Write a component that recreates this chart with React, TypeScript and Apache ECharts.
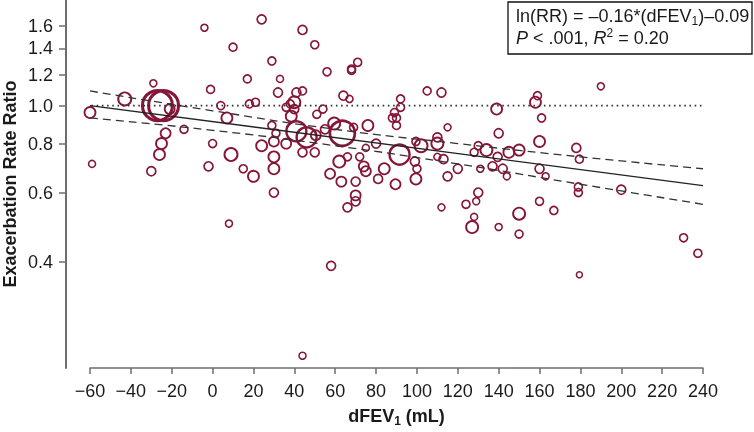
import React, { useEffect, useRef } from "react";
import * as echarts from "echarts";

// ---- data ----
const dFEV1 = [
  -60, -59, -43, -29, -27, -24, -21, -23, -14, -25, -26, -30, -4, 24, 10, 29, 17, 33, -1, 32,
  4, 18, 21, 7, 29, 38.5, 31, 0, -2, 9, 15, 20, 24, 30, 36, 30, 30, 30, 8, 44,
  50, 56, 68, 68, 71, 41, 44, 38, 40, 36, 40, 54, 51, 64, 67, 92, 92, 89, 90, 88,
  90, 105, 112, 139, 76, 115, 41, 46, 63.5, 59.5, 50.5, 55, 69, 91.5, 44, 50, 62, 66, 72, 74,
  75, 57.5, 63, 70, 70, 70, 66, 81, 84, 89.5, 80, 75, 99, 100, 99.5, 99.5, 102, 110, 110, 110,
  113, 120, 115, 130, 128, 134, 140, 139.5, 137, 131, 142, 144, 145, 150, 130, 129, 124, 112, 128, 127,
  140, 190, 159, 158, 161, 160, 178, 179.5, 160, 163, 179, 179, 200, 150, 160, 167, 150, 230.5, 237.5, 179.5,
  58, 44,
];
const rateRatio = [
  0.96, 0.71, 1.04, 1.14, 1.0, 1.0, 0.98, 0.85, 0.87, 0.8, 0.75, 0.68, 1.58, 1.66, 1.41, 1.3, 1.17, 1.17, 1.1, 1.08,
  1.0, 1.01, 1.02, 0.93, 0.89, 0.94, 0.85, 0.8, 0.7, 0.75, 0.69, 0.66, 0.79, 0.81, 0.8, 0.74, 0.69, 0.6, 0.5, 1.56,
  1.43, 1.22, 1.24, 1.23, 1.29, 1.08, 1.09, 1.01, 1.02, 0.99, 0.98, 0.98, 0.95, 1.06, 1.04, 1.04, 0.99, 0.96, 0.93, 0.93,
  0.89, 1.09, 1.08, 0.98, 0.89, 0.88, 0.86, 0.83, 0.85, 0.9, 0.84, 0.87, 0.88, 0.75, 0.76, 0.76, 0.72, 0.74, 0.74, 0.7,
  0.68, 0.67, 0.64, 0.64, 0.59, 0.57, 0.55, 0.65, 0.69, 0.63, 0.8, 0.78, 0.72, 0.69, 0.65, 0.81, 0.79, 0.83, 0.8, 0.74,
  0.73, 0.69, 0.66, 0.79, 0.76, 0.77, 0.85, 0.74, 0.7, 0.69, 0.69, 0.66, 0.76, 0.77, 0.6, 0.57, 0.56, 0.55, 0.52, 0.49,
  0.49, 1.12, 1.06, 1.02, 0.93, 0.81, 0.78, 0.73, 0.69, 0.66, 0.62, 0.6, 0.61, 0.53, 0.57, 0.54, 0.47, 0.46, 0.42, 0.37,
  0.39, 0.23,
];
// relative study weight (drawn as circle diameter)
const weight = [
  11, 7, 13, 7, 30, 30, 10, 10, 8, 11, 11, 9, 7, 9, 8, 8, 8, 7, 8, 9,
  8, 8, 8, 11, 8, 11, 8, 8, 9, 13, 8, 11, 11, 10, 10, 11, 11, 9, 7, 9,
  8, 8, 8, 8, 8, 9, 8, 8, 12, 8, 9, 8, 8, 9, 7, 8, 8, 8, 8, 8,
  8, 8, 9, 11, 11, 7, 20, 20, 25, 12, 10, 9, 8, 20, 9, 9, 12, 8, 8, 10,
  10, 10, 10, 9, 10, 9, 9, 9, 11, 10, 9, 7, 9, 8, 11, 8, 13, 9, 12, 7,
  9, 9, 9, 8, 8, 12, 9, 9, 9, 7, 9, 7, 11, 11, 9, 7, 8, 7, 7, 12,
  7, 7, 8, 11, 8, 11, 9, 8, 9, 7, 8, 8, 9, 12, 8, 8, 8, 8, 8, 6,
  9, 7,
];

const fitX = [-60, 240];
const fitRR = [1.0, 0.625];
const bandX = [-60, 0, 60, 120, 180, 240];
const bandUpper = [1.09, 0.97, 0.87, 0.8, 0.74, 0.69];
const bandLower = [0.93, 0.865, 0.79, 0.71, 0.63, 0.56];
const refX = [-72, 249];
const refRR = [1.0, 1.0];
const yTickRR = [0.4, 0.6, 0.8, 1.0, 1.2, 1.4, 1.6];
const yRangeRR = [0.214, 1.86];
const xRange = [-60, 240];
const xStep = 20;

const MAROON = "#861537";
const AXIS = "#6e6e6e";
const TEXT = "#1a1a1a";
const FONT = "'Liberation Sans', Arial, Helvetica, sans-serif";

export default function App() {
  const ref = useRef<HTMLDivElement>(null);
  useEffect(() => {
    const chart = echarts.init(ref.current!, null, { renderer: "svg" });
    const ln = Math.log;
    const pts = dFEV1.map((x, i) => ({
      value: [x, ln(rateRatio[i])],
      symbolSize: weight[i],
      itemStyle: { borderWidth: 1.1 + weight[i] * 0.065 },
    }));
    const zip = (xs: number[], ys: number[]) => xs.map((x, i) => [x, ln(ys[i])]);
    const minus = (v: number) => (v < 0 ? "\u2212" + Math.abs(v) : String(v));

    chart.setOption({
      animation: false,
      grid: { left: 90, right: 51, top: 0, bottom: 64, containLabel: false, outerBoundsMode: "none" },
      xAxis: {
        type: "value",
        min: xRange[0],
        max: xRange[1],
        interval: xStep,
        name: "{b|dFEV}{s|1}{b| (mL)}",
        nameLocation: "middle",
        nameGap: 37,
        nameMoveOverlap: false,
        nameTextStyle: {
          rich: {
            b: { fontSize: 18, fontWeight: "bold", fontFamily: FONT, color: TEXT, lineHeight: 22 },
            s: { fontSize: 12, fontWeight: "bold", fontFamily: FONT, color: TEXT, verticalAlign: "bottom" },
          },
        },
        axisLine: { show: true, onZero: false, lineStyle: { color: AXIS, width: 1.5 } },
        axisTick: { show: true, length: 6, lineStyle: { color: AXIS, width: 1.5 } },
        axisLabel: { fontSize: 18, fontFamily: FONT, color: TEXT, margin: 14, formatter: minus },
        splitLine: { show: false },
      },
      yAxis: {
        type: "value",
        min: ln(yRangeRR[0]),
        max: ln(yRangeRR[1]),
        offset: 24,
        name: "Exacerbation Rate Ratio",
        nameLocation: "middle",
        nameGap: 47,
        nameMoveOverlap: false,
        nameTextStyle: { fontSize: 18, fontWeight: "bold", fontFamily: FONT, color: TEXT },
        axisLine: { show: true, onZero: false, lineStyle: { color: AXIS, width: 2 } },
        axisTick: {
          show: true,
          length: 7,
          customValues: yTickRR.map(ln),
          lineStyle: { color: AXIS, width: 1.5 },
        },
        axisLabel: {
          customValues: yTickRR.map(ln),
          fontSize: 18,
          fontFamily: FONT,
          color: TEXT,
          margin: 13,
          formatter: (v: number) => Math.exp(v).toFixed(1),
        },
        splitLine: { show: false },
      },
      series: [
        {
          type: "scatter",
          data: pts,
          symbol: "circle",
          itemStyle: { color: "rgba(0,0,0,0)", borderColor: MAROON, opacity: 1 },
          clip: false,
          z: 2,
        },
        {
          type: "line",
          data: zip(refX, refRR),
          symbol: "none",
          clip: false,
          lineStyle: { color: "#333", width: 1.6, type: [1.6, 3.6] },
          z: 3,
        },
        {
          type: "line",
          data: zip(fitX, fitRR),
          symbol: "none",
          lineStyle: { color: "#222", width: 1.3 },
          z: 3,
        },
        {
          type: "line",
          data: zip(bandX, bandUpper),
          symbol: "none",
          smooth: true,
          lineStyle: { color: "#333", width: 1.3, type: [8, 5] },
          z: 3,
        },
        {
          type: "line",
          data: zip(bandX, bandLower),
          symbol: "none",
          smooth: true,
          lineStyle: { color: "#333", width: 1.3, type: [8, 5] },
          z: 3,
        },
      ],
      graphic: [
        {
          type: "rect",
          shape: { x: 508, y: 2, width: 244, height: 52 },
          style: { fill: "#fff", stroke: "#111", lineWidth: 1.3 },
          z: 10,
        },
        {
          type: "text",
          x: 516,
          y: 5,
          z: 11,
          style: {
            text: "{n|ln(RR) = \u20130.16*(dFEV}{s|1}{n|)\u20130.09}\n{i|P}{n| < .001, }{i|R}{p|2}{n| = 0.20}",
            rich: {
              n: { fontSize: 18, fontFamily: FONT, fill: TEXT, lineHeight: 22 },
              i: { fontSize: 18, fontFamily: FONT, fill: TEXT, fontStyle: "italic", lineHeight: 22 },
              s: { fontSize: 12, fontFamily: FONT, fill: TEXT, verticalAlign: "bottom" },
              p: { fontSize: 12, fontFamily: FONT, fill: TEXT, verticalAlign: "top" },
            },
          },
        },
      ],
    });
    return () => chart.dispose();
  }, []);
  return <div ref={ref} style={{ position: "fixed", left: 0, top: 0, width: 754, height: 432 }} />;
}
